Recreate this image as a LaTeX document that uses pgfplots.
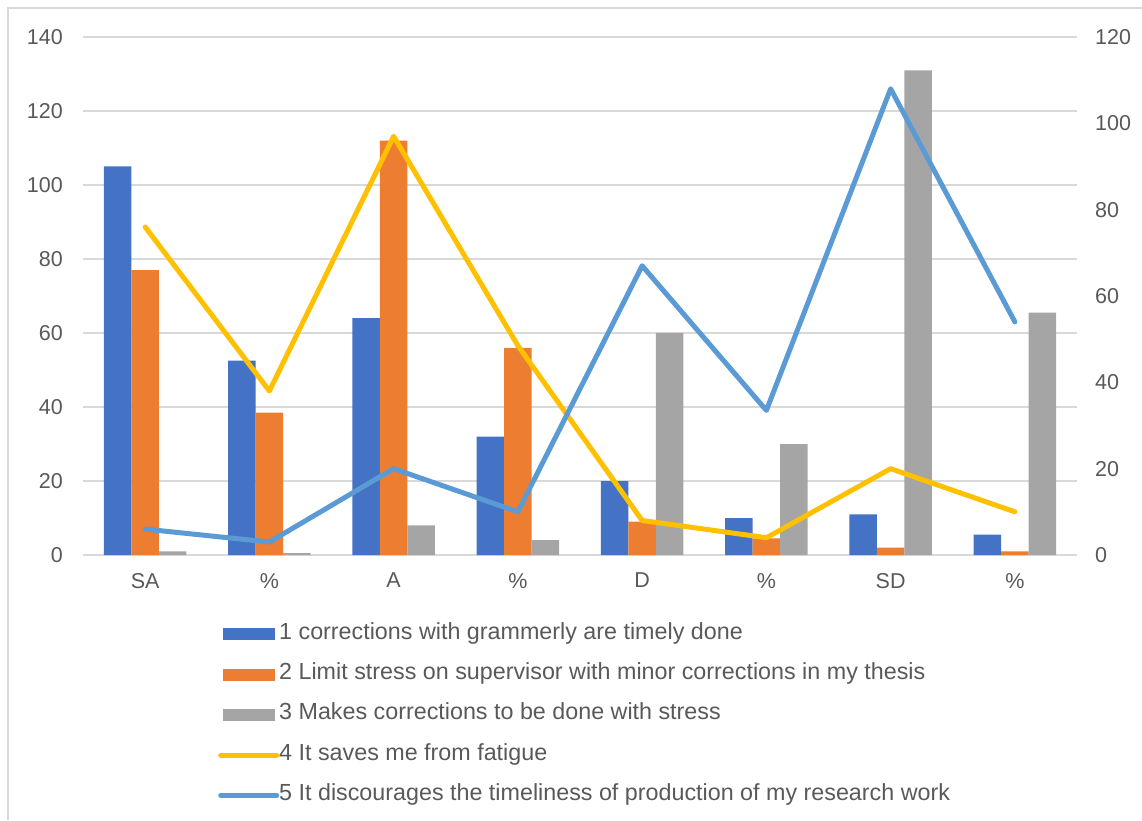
\documentclass[border=0pt]{standalone}
\usepackage{pgfplots}
\pgfplotsset{compat=1.18}
\usepackage{fontspec}
\setmainfont{Liberation Sans}
\definecolor{c1}{HTML}{4472C4}
\definecolor{c2}{HTML}{ED7D31}
\definecolor{c3}{HTML}{A5A5A5}
\definecolor{c4}{HTML}{FFC000}
\definecolor{c5}{HTML}{5B9BD5}
\definecolor{txt}{HTML}{595959}
\definecolor{grd}{HTML}{D9D9D9}
\pgfplotsset{
  barleg/.style={legend image code/.code={\fill[##1] (0pt,-6pt) rectangle (52pt,6pt);}},
  lineleg/.style={legend image code/.code={\draw[##1] (-2pt,0pt) -- (54pt,0pt);}}
}
\begin{document}
\begin{tikzpicture}[x=1pt,y=1pt]
\path[use as bounding box] (0,0) rectangle (1142,820);
\draw[grd, line width=1.5pt] (8,0) -- (8,812) -- (1142,812);
\begin{axis}[at={(83pt,265pt)}, anchor=south west, scale only axis,
  width=994pt, height=518pt,
  xmin=-0.5, xmax=7.5, ymin=0, ymax=140,
  ytick={0,20,...,140}, xtick={0,...,7},
  xticklabels={SA,\%,A,\%,D,\%,SD,\%},
  axis line style={draw=none}, major tick length=0pt,
  ymajorgrids, grid style={grd, line width=1.3pt},
  tick label style={font=\fontsize{21.5}{25}\selectfont, text=txt},
  /pgf/number format/assume math mode=true,
  yticklabel style={inner sep=0pt, anchor=east, xshift=-20pt},
  xticklabel style={inner sep=0pt, anchor=north, yshift=-18pt},
  ybar=0pt, bar width=27.5pt,
  clip=false]
\addplot[fill=c1, draw=none] coordinates {(0,105) (1,52.5) (2,64) (3,32) (4,20) (5,10) (6,11) (7,5.5)};
\addplot[fill=c2, draw=none] coordinates {(0,77) (1,38.5) (2,112) (3,56) (4,9) (5,4.5) (6,2) (7,1)};
\addplot[fill=c3, draw=none] coordinates {(0,1) (1,0.5) (2,8) (3,4) (4,60) (5,30) (6,131) (7,65.5)};
\end{axis}
\begin{axis}[at={(83pt,265pt)}, anchor=south west, scale only axis,
  width=994pt, height=518pt,
  xmin=-0.5, xmax=7.5, ymin=0, ymax=120,
  ytick={0,20,...,120}, axis y line*=right, hide x axis,
  axis line style={draw=none}, major tick length=0pt,
  tick label style={font=\fontsize{21.5}{25}\selectfont, text=txt},
  /pgf/number format/assume math mode=true,
  yticklabel style={inner sep=0pt, anchor=west, xshift=18pt},
  clip=false,
  legend style={at={(axis description cs:0.1328,-0.1295)}, anchor=north west,
    draw=none, fill=none, font=\fontsize{23.3}{27}\selectfont, text=txt,
    row sep=20.3pt, column sep=0pt,
    nodes={inner sep=0pt, text height=15pt, text depth=5pt}},
  legend cell align=left]
\addlegendimage{fill=c1, draw=none, barleg}
\addlegendentry{1 corrections with grammerly are timely done}
\addlegendimage{fill=c2, draw=none, barleg}
\addlegendentry{2 Limit stress on supervisor with minor corrections in my thesis}
\addlegendimage{fill=c3, draw=none, barleg}
\addlegendentry{3 Makes corrections to be done with stress}
\addplot[c4, line width=5pt, line cap=round, line join=round, lineleg]
  coordinates {(0,76) (1,38) (2,97) (3,48.5) (4,8) (5,4) (6,20) (7,10)};
\addlegendentry{4 It saves me from fatigue}
\addplot[c5, line width=5pt, line cap=round, line join=round, lineleg]
  coordinates {(0,6) (1,3) (2,20) (3,10) (4,67) (5,33.5) (6,108) (7,54)};
\addlegendentry{5 It discourages the timeliness of production of my research work}
\end{axis}
\end{tikzpicture}
\end{document}
